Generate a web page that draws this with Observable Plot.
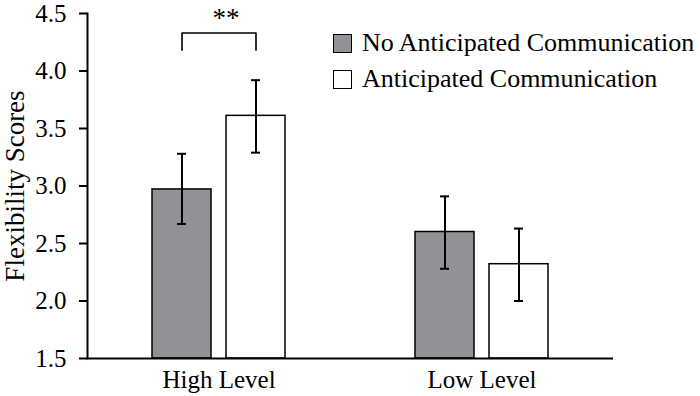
<!DOCTYPE html>
<html>
<head>
<meta charset="utf-8">
<script src="https://cdn.jsdelivr.net/npm/d3@7"></script>
<script src="https://cdn.jsdelivr.net/npm/@observablehq/plot@0.6"></script>
<style>
  html, body { margin: 0; padding: 0; background: #fff; }
  #wrap { position: relative; width: 700px; height: 396px; font-family: 'Liberation Serif', serif; }
  #wrap svg, #wrap svg text { font-family: 'Liberation Serif', serif !important; }
  #legend { position: absolute; left: 333px; top: 25px; font-size: 26px; color: #000; font-family: 'Liberation Serif', serif; }
  .row { display: flex; align-items: center; height: 36px; white-space: nowrap; }
  .sw { width: 17px; height: 17px; border: 1.5px solid #000; margin-right: 10px; box-sizing: content-box; }
</style>
</head>
<body>
<div id="wrap"></div>
<script>
const groups = ["High Level", "Low Level"];
const conditions = ["No Anticipated Communication", "Anticipated Communication"];
const colors = ["#929196", "#ffffff"];
const meansNo = [2.97, 2.60];
const meansAnt = [3.61, 2.32];
const loNo = [2.67, 2.28];
const hiNo = [3.28, 2.91];
const loAnt = [3.29, 2.00];
const hiAnt = [3.92, 2.63];
const yDomain = [1.5, 4.5];
const yTicks = [1.5, 2.0, 2.5, 3.0, 3.5, 4.0, 4.5];
const bracketCond = [conditions[0], conditions[0], conditions[1], conditions[1]];
const bracketY = [4.18, 4.33, 4.33, 4.18];
const starLabel = "**";
const starY = 4.38;

const rows = [];
groups.forEach((g, i) => {
  rows.push({group: g, cond: conditions[0], mean: meansNo[i], lo: loNo[i], hi: hiNo[i]});
  rows.push({group: g, cond: conditions[1], mean: meansAnt[i], lo: loAnt[i], hi: hiAnt[i]});
});
const bracket = bracketCond.map((c, i) => ({group: groups[0], cond: c, y: bracketY[i]}));
const serif = "'Liberation Serif', serif";

const chart = Plot.plot({
  width: 700,
  height: 396,
  marginTop: 13,
  marginBottom: 38,
  marginLeft: 86,
  marginRight: 87,
  style: {fontFamily: serif, fontSize: "25px", color: "#000", background: "#fff"},
  fx: {domain: groups, padding: 0},
  x: {domain: conditions, paddingInner: 0.2, paddingOuter: 0.857, axis: null},
  y: {domain: yDomain},
  color: {domain: conditions, range: colors},
  marks: [
    Plot.barY(rows, {fx: "group", x: "cond", y1: yDomain[0], y2: "mean", fill: "cond", stroke: "#000", strokeWidth: 1.5}),
    Plot.ruleX(rows, {fx: "group", x: "cond", y1: "lo", y2: "hi", stroke: "#000", strokeWidth: 2}),
    Plot.tickY(rows, {fx: "group", x: "cond", y: "lo", stroke: "#000", strokeWidth: 2, insetLeft: 25, insetRight: 25}),
    Plot.tickY(rows, {fx: "group", x: "cond", y: "hi", stroke: "#000", strokeWidth: 2, insetLeft: 25, insetRight: 25}),
    Plot.line(bracket, {fx: "group", x: "cond", y: "y", stroke: "#000", strokeWidth: 1.6}),
    Plot.text([{group: groups[0]}], {fx: "group", y: starY, text: () => starLabel, fontSize: 27, fontFamily: serif, dx: 7, lineAnchor: "bottom"}),
    Plot.ruleY([yDomain[0]], {stroke: "#000", strokeWidth: 2}),
    Plot.frame({anchor: "left", facetAnchor: "left", stroke: "#000", strokeWidth: 2}),
    Plot.axisY({ticks: yTicks, tickFormat: d => d.toFixed(1), tickSize: 8, tickPadding: 13, strokeWidth: 2,
      label: null, fontSize: 25, fontFamily: serif}),
    Plot.axisY({ticks: [], tickSize: 0, label: "Flexibility Scores", labelAnchor: "center", labelArrow: "none", fontSize: 27, fontFamily: serif}),
    Plot.axisFx({anchor: "bottom", tickSize: 0, tickPadding: 12, label: null, fontSize: 25, fontFamily: serif})
  ]
});
document.getElementById("wrap").appendChild(chart);

const legend = document.createElement("div");
legend.id = "legend";
conditions.forEach((c, i) => {
  const row = document.createElement("div");
  row.className = "row";
  const sw = document.createElement("div");
  sw.className = "sw";
  sw.style.background = colors[i];
  const t = document.createElement("span");
  t.textContent = c;
  row.appendChild(sw);
  row.appendChild(t);
  legend.appendChild(row);
});
document.getElementById("wrap").appendChild(legend);
</script>
</body>
</html>
